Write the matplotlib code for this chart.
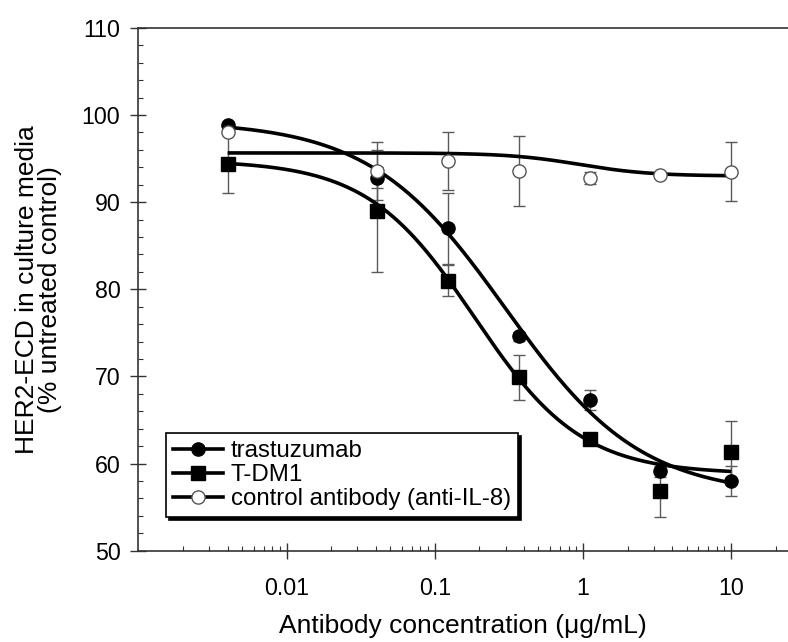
import numpy as np
import matplotlib
matplotlib.use("Agg")
import matplotlib.pyplot as plt
from matplotlib.lines import Line2D
from matplotlib.ticker import FixedLocator, NullFormatter, MultipleLocator

plt.rcParams['font.family'] = ['Liberation Sans', 'DejaVu Sans']

# ---------------- data ----------------
conc = [0.004, 0.041, 0.123, 0.37, 1.11, 3.33, 10.0]

trast_y = [98.9, 92.8, 87.0, 74.6, 67.3, 59.1, 58.0]
trast_err = [0.3, 1.2, 4.1, 0.5, 1.2, 0.6, 1.7]

tdm1_y = [94.4, 89.0, 81.0, 69.9, 62.8, 56.9, 61.3]
tdm1_err = [3.4, 7.0, 1.8, 2.6, 0.5, 3.0, 3.6]

ctrl_y = [98.1, 93.6, 94.7, 93.6, 92.8, 93.1, 93.5]
ctrl_err = [0.3, 3.3, 3.3, 4.0, 0.7, 0.3, 3.4]

# fitted 4-parameter logistic curves: top, bottom, EC50, Hill slope
trast_fit = [99.3, 56.3, 0.30, 0.95]
tdm1_fit = [94.8, 58.8, 0.185, 1.2]
ctrl_fit = [95.65, 93.0, 0.95, 1.8]

labels = ['trastuzumab', 'T-DM1', 'control antibody (anti-IL-8)']
xticks = [0.01, 0.1, 1, 10]
xticklabels = ['0.01', '0.1', '1', '10']
yticks = [50, 60, 70, 80, 90, 100, 110]


def four_pl(x, p):
    top, bottom, ec50, h = p
    return bottom + (top - bottom) / (1.0 + (x / ec50) ** h)


fig = plt.figure(figsize=(7.88, 6.42), dpi=100)
ax = fig.add_axes([138.4 / 788, 1 - 550.7 / 642, 1 - 138.4 / 788, (550.7 - 27.9) / 642])
ax.set_xscale('log')
ax.set_xlim(0.001, 10 ** 1.383)
ax.set_ylim(50, 110)

xs = np.logspace(np.log10(conc[0]), np.log10(conc[-1]), 400)
ecol = '#5a5a5a'

series = [
    (trast_y, trast_err, trast_fit, dict(marker='o', ms=9.5, mfc='black', mec='black')),
    (tdm1_y, tdm1_err, tdm1_fit, dict(marker='s', ms=10.5, mfc='black', mec='black')),
    (ctrl_y, ctrl_err, ctrl_fit, dict(marker='o', ms=9.5, mfc='white', mec='#555555', mew=1.0)),
]

for yv, ev, fit, mk in series:
    ax.errorbar(conc, yv, yerr=ev, fmt='none', ecolor=ecol, elinewidth=1.0,
                capsize=4, capthick=1.0, zorder=2)
for yv, ev, fit, mk in series:
    ax.plot(xs, four_pl(xs, fit), color='black', lw=2.6, zorder=3, solid_capstyle='butt')
for yv, ev, fit, mk in series:
    ax.plot(conc, yv, linestyle='none', zorder=4, **mk)

# axes styling
ax.spines['right'].set_visible(False)
for s in ['left', 'bottom', 'top']:
    ax.spines[s].set_linewidth(1.2)
    ax.spines[s].set_color('#333333')
ax.xaxis.set_major_locator(FixedLocator(xticks))
ax.set_xticklabels(xticklabels)
ax.xaxis.set_minor_locator(FixedLocator(
    [m * 10.0 ** e for e in range(-3, 2) for m in range(2, 10)]))
ax.xaxis.set_minor_formatter(NullFormatter())
ax.yaxis.set_major_locator(FixedLocator(yticks))
ax.yaxis.set_minor_locator(MultipleLocator(2))
ax.tick_params(axis='both', which='major', direction='inout', length=12, width=1.0,
               color='#333333', labelsize=16.7)
ax.tick_params(axis='both', which='minor', direction='in', length=3.3, width=0.8,
               color='#333333')
ax.tick_params(axis='x', which='major', pad=13)
ax.tick_params(axis='y', which='major', pad=7)
ax.tick_params(top=False, which='both')

ax.set_xlabel('Antibody concentration (\u03bcg/mL)', fontsize=19, labelpad=10)
ax.set_ylabel('HER2-ECD in culture media\n(% untreated control)', fontsize=19,
              labelpad=14, linespacing=0.95)

handles = [
    Line2D([], [], color='black', lw=2.6, marker='o', ms=9.5, mfc='black', mec='black'),
    Line2D([], [], color='black', lw=2.6, marker='s', ms=10.5, mfc='black', mec='black'),
    Line2D([], [], color='black', lw=2.6, marker='o', ms=9.5, mfc='white', mec='#555555'),
]
leg = ax.legend(handles, labels, loc='lower left', bbox_to_anchor=(0.042, 0.064),
                fontsize=17.3, frameon=True, fancybox=False,
                shadow={'color': 'black', 'alpha': 1.0, 'ox': 2.2, 'oy': -2.2},
                handlelength=2.1, handletextpad=0.3, labelspacing=0.08,
                borderpad=0.3, borderaxespad=0)
leg.get_frame().set_edgecolor('black')
leg.get_frame().set_linewidth(1.2)

fig.savefig('out.png', dpi=100)
